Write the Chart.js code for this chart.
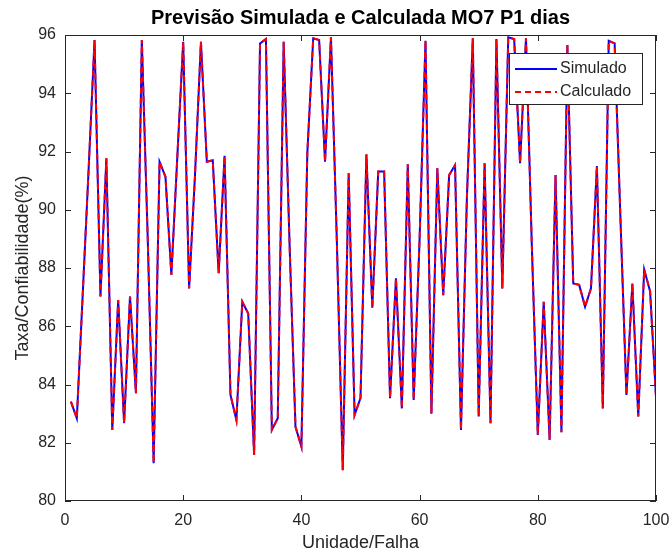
<!DOCTYPE html>
<html>
<head>
<meta charset="utf-8">
<script src="https://cdn.jsdelivr.net/npm/chart.js@4"></script>
<style>
  html, body { margin: 0; padding: 0; background: #fff; }
  #wrap { width: 670px; height: 555px; }
</style>
</head>
<body>
<div id="wrap"><canvas id="chart" width="670" height="555"></canvas></div>
<script>
const chartTitle = "Previsão Simulada e Calculada MO7 P1 dias";
const xLabel = "Unidade/Falha";
const yLabel = "Taxa/Confiabilidade(%)";

// unit index 1..100
const unidades = [
  1, 2, 3, 4, 5, 6, 7, 8, 9, 10,
  11, 12, 13, 14, 15, 16, 17, 18, 19, 20,
  21, 22, 23, 24, 25, 26, 27, 28, 29, 30,
  31, 32, 33, 34, 35, 36, 37, 38, 39, 40,
  41, 42, 43, 44, 45, 46, 47, 48, 49, 50,
  51, 52, 53, 54, 55, 56, 57, 58, 59, 60,
  61, 62, 63, 64, 65, 66, 67, 68, 69, 70,
  71, 72, 73, 74, 75, 76, 77, 78, 79, 80,
  81, 82, 83, 84, 85, 86, 87, 88, 89, 90,
  91, 92, 93, 94, 95, 96, 97, 98, 99, 100,
];

const simulado = [
  83.41, 82.84, 87.1, 91.4, 95.83, 87.02, 91.77, 82.44, 86.9, 82.67,
  87.02, 83.7, 95.83, 89.0, 81.3, 91.65, 91.13, 87.76, 91.8, 95.77,
  87.3, 91.2, 95.77, 91.65, 91.7, 87.82, 91.85, 83.64, 82.78, 86.84,
  86.44, 81.58, 95.71, 95.86, 82.44, 82.84, 95.77, 88.8, 82.55, 81.87,
  91.94, 95.89, 95.83, 91.65, 95.92, 88.9, 81.06, 91.25, 82.95, 83.53,
  91.9, 86.64, 91.31, 91.31, 83.53, 87.65, 83.18, 91.56, 83.47, 89.0,
  95.8, 83.0, 91.42, 87.07, 91.19, 91.53, 82.44, 90.4, 95.89, 82.9,
  91.6, 82.67, 95.86, 87.3, 95.92, 95.86, 91.6, 95.89, 88.7, 82.27,
  86.84, 82.1, 91.19, 82.36, 95.66, 87.47, 87.42, 86.67, 87.3, 91.5,
  83.18, 95.8, 95.71, 89.6, 83.64, 87.47, 82.9, 87.95, 87.2, 83.58,
];

const calculado = [
  83.41, 82.84, 87.1, 91.4, 95.83, 87.02, 91.77, 82.44, 86.9, 82.67,
  87.02, 83.7, 95.83, 89.0, 81.3, 91.65, 91.13, 87.76, 91.8, 95.77,
  87.3, 91.2, 95.77, 91.65, 91.7, 87.82, 91.85, 83.64, 82.78, 86.84,
  86.44, 81.58, 95.71, 95.86, 82.44, 82.84, 95.77, 88.8, 82.55, 81.87,
  91.94, 95.89, 95.83, 91.65, 95.92, 88.9, 81.06, 91.25, 82.95, 83.53,
  91.9, 86.64, 91.31, 91.31, 83.53, 87.65, 83.18, 91.56, 83.47, 89.0,
  95.8, 83.0, 91.42, 87.07, 91.19, 91.53, 82.44, 90.4, 95.89, 82.9,
  91.6, 82.67, 95.86, 87.3, 95.92, 95.86, 91.6, 95.89, 88.7, 82.27,
  86.84, 82.1, 91.19, 82.36, 95.66, 87.47, 87.42, 86.67, 87.3, 91.5,
  83.18, 95.8, 95.71, 89.6, 83.64, 87.47, 82.9, 87.95, 87.2, 83.58,
];

const xTicks = [0, 20, 40, 60, 80, 100];
const yTicks = [80, 82, 84, 86, 88, 90, 92, 94, 96];

const axisColor = "#262626";
const fontFamily = "'Liberation Sans', Arial, sans-serif";

const toPoints = (ys) => ys.map((y, i) => ({ x: unidades[i], y }));

// MATLAB-like box, inward ticks, title over the axes and a boxed legend
const matlabAxes = {
  id: "matlabAxes",
  afterDraw(chart) {
    const { ctx, chartArea: a, scales } = chart;
    ctx.save();
    ctx.strokeStyle = axisColor;
    ctx.lineWidth = 1;
    ctx.strokeRect(a.left + 0.5, a.top + 0.5, a.right - a.left - 1, a.bottom - a.top - 1);

    const len = 6;
    ctx.beginPath();
    xTicks.forEach((v) => {
      const px = Math.round(scales.x.getPixelForValue(v)) + 0.5;
      ctx.moveTo(px, a.bottom);
      ctx.lineTo(px, a.bottom - len);
      ctx.moveTo(px, a.top);
      ctx.lineTo(px, a.top + len);
    });
    yTicks.forEach((v) => {
      const py = Math.round(scales.y.getPixelForValue(v)) + 0.5;
      ctx.moveTo(a.left, py);
      ctx.lineTo(a.left + len, py);
      ctx.moveTo(a.right, py);
      ctx.lineTo(a.right - len, py);
    });
    ctx.stroke();

    // title, centred on the axes
    ctx.fillStyle = "#000";
    ctx.font = "bold 20px " + fontFamily;
    ctx.textAlign = "center";
    ctx.textBaseline = "middle";
    ctx.fillText(chartTitle, (a.left + a.right) / 2, 18);

    // legend, in dataset order (Simulado first)
    const w = 133, h = 51;
    const lx = a.right - 14 - w;
    const ly = a.top + 18;
    ctx.fillStyle = "#fff";
    ctx.fillRect(lx, ly, w, h);
    ctx.strokeStyle = axisColor;
    ctx.strokeRect(lx + 0.5, ly + 0.5, w, h);
    ctx.font = "16px " + fontFamily;
    ctx.textAlign = "left";
    chart.data.datasets.forEach((ds, i) => {
      const cy = ly + 16 + i * 23;
      ctx.beginPath();
      ctx.strokeStyle = ds.borderColor;
      ctx.lineWidth = ds.borderWidth;
      ctx.setLineDash(ds.borderDash || []);
      ctx.moveTo(lx + 6, cy);
      ctx.lineTo(lx + 48, cy);
      ctx.stroke();
      ctx.setLineDash([]);
      ctx.fillStyle = axisColor;
      ctx.fillText(ds.label, lx + 51, cy);
    });
    ctx.restore();
  },
};

const ctx = document.getElementById("chart").getContext("2d");

new Chart(ctx, {
  type: "line",
  data: {
    datasets: [
      {
        label: "Simulado",
        data: toPoints(simulado),
        borderColor: "#0000FF",
        borderWidth: 2,
        pointRadius: 0,
        tension: 0,
        fill: false,
        order: 2,
      },
      {
        label: "Calculado",
        data: toPoints(calculado),
        borderColor: "#FF0000",
        borderWidth: 2,
        borderDash: [6, 4],
        pointRadius: 0,
        tension: 0,
        fill: false,
        order: 1,
      },
    ],
  },
  options: {
    responsive: false,
    animation: false,
    layout: {
      padding: { top: 35, right: 14, bottom: 0, left: 0 },
    },
    scales: {
      x: {
        type: "linear",
        min: 0,
        max: 100,
        afterFit: (scale) => {
          scale.height = 54;
          scale.paddingLeft = 0;
          scale.paddingRight = 0;
        },
        afterBuildTicks: (scale) => {
          scale.ticks = xTicks.map((v) => ({ value: v }));
        },
        grid: { display: false, drawTicks: false },
        border: { display: false },
        ticks: {
          padding: 10,
          color: axisColor,
          font: { family: fontFamily, size: 16 },
          maxRotation: 0,
        },
        title: {
          display: true,
          text: xLabel,
          color: axisColor,
          font: { family: fontFamily, size: 18 },
          padding: { top: 0, bottom: 1 },
        },
      },
      y: {
        min: 80,
        max: 96,
        afterFit: (scale) => {
          scale.width = 65;
          scale.paddingTop = 0;
          scale.paddingBottom = 0;
        },
        afterBuildTicks: (scale) => {
          scale.ticks = yTicks.map((v) => ({ value: v }));
        },
        grid: { display: false, drawTicks: false },
        border: { display: false },
        ticks: {
          padding: 9,
          color: axisColor,
          font: { family: fontFamily, size: 16 },
        },
        title: {
          display: true,
          text: yLabel,
          color: axisColor,
          font: { family: fontFamily, size: 18 },
          padding: { top: 12, bottom: 0 },
        },
      },
    },
    plugins: {
      legend: { display: false },
      tooltip: { enabled: false },
    },
  },
  plugins: [matlabAxes],
});
</script>
</body>
</html>
